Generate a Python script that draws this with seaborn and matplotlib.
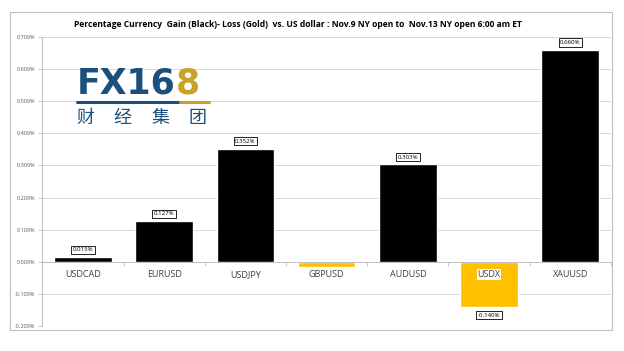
import seaborn as sns
import matplotlib.pyplot as plt
import matplotlib.ticker as mticker
from matplotlib.patches import Rectangle
from matplotlib.lines import Line2D

pairs = ["USDCAD", "EURUSD", "USDJPY", "GBPUSD", "AUDUSD", "USDX", "XAUUSD"]
change = [0.015, 0.127, 0.352, -0.016, 0.303, -0.140, 0.660]
shown = [True, True, True, False, True, True, True]

gain_col = "#000000"
loss_col = "#FFC000"
colors = [gain_col if v >= 0 else loss_col for v in change]

sns.set_theme(style="white")
plt.rcParams['font.family'] = ['Open Sans', 'Noto Sans CJK SC', 'DejaVu Sans']

fig = plt.figure(figsize=(6.24, 3.51), dpi=100)
ax = fig.add_axes([0.068, 0.071, 0.911, 0.824])

sns.barplot(x=pairs, y=change, hue=pairs, palette=colors, legend=False,
            width=0.71, saturation=1, ax=ax)

ax.set_ylim(-0.2, 0.7)
ax.set_xlim(-0.5, len(pairs) - 0.5)
ax.yaxis.set_major_locator(mticker.MultipleLocator(0.1))
ax.yaxis.set_major_formatter(mticker.FuncFormatter(lambda v, p: f"{v:.3f}%"))
ax.grid(False)
ax.set_axisbelow(False)
# gridlines behind the bars, axis labels stay on top
for yv in ax.get_yticks():
    if -0.2 < yv <= 0.7:
        ax.axhline(yv, color='#d9d9d9', lw=0.7, zorder=0.5)

for s in ['top', 'right']:
    ax.spines[s].set_visible(False)
ax.spines['left'].set_color('#bfbfbf')
ax.spines['left'].set_linewidth(0.7)
ax.spines['bottom'].set_position(('data', 0))
ax.spines['bottom'].set_color('#bfbfbf')
ax.spines['bottom'].set_linewidth(0.7)

ax.tick_params(axis='y', labelsize=4, labelcolor='#595959', left=True,
               length=3, width=0.6, color='#bfbfbf', pad=2)
ax.tick_params(axis='x', which='major', length=0, labelsize=6.5,
               labelcolor='#404040', pad=6)
ax.set_xticks([i + 0.5 for i in range(-1, len(pairs))], minor=True)
ax.tick_params(axis='x', which='minor', bottom=True, length=3, width=0.6,
               color='#bfbfbf', direction='out')
for lab in ax.get_xticklabels():
    if lab.get_text() == "USDX":
        lab.set_bbox(dict(facecolor='white', edgecolor='none', pad=0.5))

# value boxes
for i, (v, s) in enumerate(zip(change, shown)):
    if not s:
        continue
    off = 5.2 if v >= 0 else -6
    ax.annotate(f"{v:.3f}%", (i, v), xytext=(0, off), textcoords='offset points',
                ha='center', va='center', fontsize=4.4, color='black',
                bbox=dict(boxstyle='square,pad=0.25', fc='white', ec='black', lw=0.6))

fig.suptitle("Percentage Currency  Gain (Black)- Loss (Gold)  vs. US dollar : Nov.9 NY open to  Nov.13 NY open 6:00 am ET",
             x=0.477, y=0.93, va='center', fontsize=6.1, fontweight='bold', color='black')

# outer chart frame
fig.patches.append(Rectangle((0.016, 0.06), 0.965, 0.906, transform=fig.transFigure,
                             fill=False, ec='#bfbfbf', lw=0.8))

# logo
blue = "#1c4f7c"
gold = "#c9a22a"
t = fig.text(0.123, 0.735, "FX16", fontsize=25, fontweight='bold', color=blue,
             ha='left', va='baseline', family='DejaVu Sans')
fig.canvas.draw()
bb = t.get_window_extent().transformed(fig.transFigure.inverted())
fig.text(bb.x1 + 0.001, 0.735, "8", fontsize=25, fontweight='bold', color=gold,
         ha='left', va='baseline', family='DejaVu Sans')
fig.lines.append(Line2D([0.123, 0.288], [0.709, 0.709], transform=fig.transFigure,
                        color=blue, lw=2.2))
fig.lines.append(Line2D([0.288, 0.335], [0.709, 0.709], transform=fig.transFigure,
                        color=gold, lw=2.2))
for k, ch in enumerate("财经集团"):
    fig.text(0.122 + k * 0.06, 0.664, ch, fontsize=13, color=blue,
             ha='left', va='center', family=['Noto Sans CJK SC', 'DejaVu Sans'])

fig.savefig("out.png", dpi=100)
